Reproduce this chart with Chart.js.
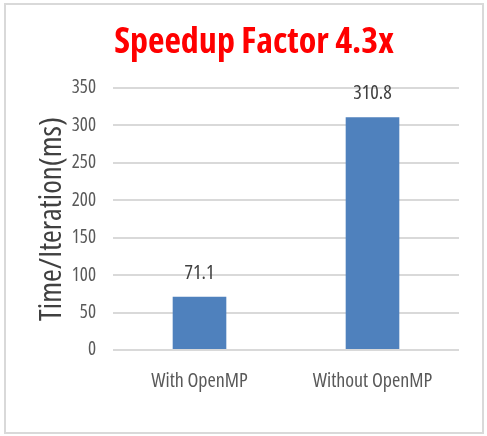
<!DOCTYPE html>
<html>
<head>
<meta charset="utf-8">
<script src="https://cdn.jsdelivr.net/npm/chart.js@4/dist/chart.umd.min.js"></script>
<style>
html,body{margin:0;padding:0;background:#fff;}
#wrap{position:absolute;left:0;top:0;width:487px;height:436px;}
#frame{position:absolute;left:4px;top:3px;width:476px;height:427px;border:2px solid #d9d9d9;pointer-events:none;}
</style>
</head>
<body>
<div id="wrap"><canvas id="c" width="487" height="436"></canvas></div>
<div id="frame"></div>
<script>
const categories = ["With OpenMP", "Without OpenMP"];
const timeValues = [71.1, 310.8];
const yTicks = [0, 50, 100, 150, 200, 250, 300, 350];
const chartTitle = "Speedup Factor 4.3x";
const yAxisTitle = "Time/Iteration(ms)";

const FAMILY = "'Open Sans', sans-serif";

const titleAndLabels = {
  id: 'titleAndLabels',
  afterDatasetsDraw(chart) {
    const ctx = chart.ctx;
    const meta = chart.getDatasetMeta(0);
    ctx.save();
    ctx.font = "condensed 20px " + FAMILY;
    ctx.fillStyle = "#404040";
    ctx.textAlign = "center";
    ctx.textBaseline = "alphabetic";
    meta.data.forEach((bar, i) => {
      ctx.fillText(String(timeValues[i]), bar.x, bar.y - 18);
    });
    ctx.font = "bold condensed 36px " + FAMILY;
    ctx.fillStyle = "#ff0000";
    ctx.fillText(chartTitle, 254, 53);
    ctx.restore();

    ctx.save();
    ctx.translate(52, 219);
    ctx.rotate(-Math.PI / 2);
    ctx.font = "condensed 31px " + FAMILY;
    ctx.fillStyle = "#404040";
    ctx.textAlign = "center";
    ctx.textBaseline = "middle";
    ctx.fillText(yAxisTitle, 0, 0);
    ctx.restore();
  }
};

new Chart(document.getElementById('c'), {
  type: 'bar',
  data: {
    labels: categories,
    datasets: [{
      data: timeValues,
      backgroundColor: '#4f81bd',
      categoryPercentage: 0.62,
      barPercentage: 0.5
    }]
  },
  options: {
    responsive: false,
    animation: false,
    layout: { padding: { left: 0, right: 28, top: 88, bottom: 0 } },
    plugins: {
      legend: { display: false },
      tooltip: { enabled: false },
      title: { display: false }
    },
    scales: {
      x: {
        grid: { display: false, drawTicks: false },
        border: { display: false },
        ticks: { color: '#595959', font: { family: FAMILY, size: 20, weight: 'condensed' }, padding: 19 },
        afterFit(scale) { scale.height = 86; }
      },
      y: {
        min: 0, max: 350,
        afterBuildTicks(scale) { scale.ticks = yTicks.map(v => ({ value: v })); },
        grid: { color: '#d9d9d9', lineWidth: 2, drawTicks: false },
        border: { display: false },
        ticks: { color: '#595959', font: { family: FAMILY, size: 19, weight: 'condensed' }, padding: 17 },
        title: { display: false },
        afterFit(scale) { scale.width = 113; }
      }
    }
  },
  plugins: [titleAndLabels]
});
</script>
</body>
</html>
